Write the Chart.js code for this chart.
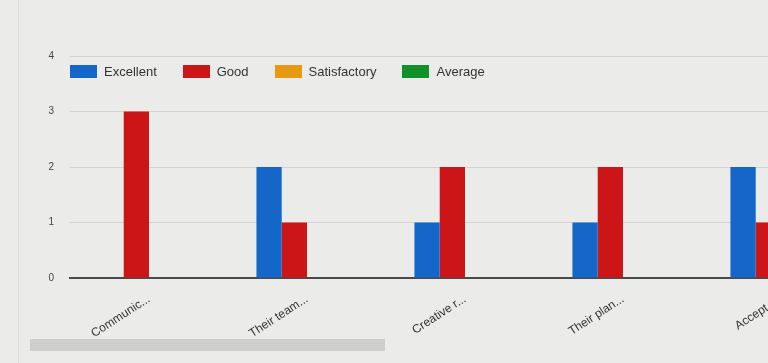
<!DOCTYPE html>
<html>
<head>
<meta charset="utf-8">
<script src="https://cdn.jsdelivr.net/npm/chart.js@4.4.0/dist/chart.umd.min.js"></script>
<style>
html,body{margin:0;padding:0;background:#ebebe9;overflow:hidden;width:768px;height:363px;}
#wrap{position:absolute;left:0;top:0;width:870px;height:363px;}
#legend{position:absolute;left:70px;top:64px;display:flex;font:13px "Liberation Sans",Arial,sans-serif;color:#333;}
#legend span.item{display:flex;align-items:center;margin-right:26px;}
#legend span.box{display:inline-block;width:27px;height:13px;margin-right:7px;}
#scroll{position:absolute;left:30px;top:339px;width:355px;height:12px;background:#cfcfcd;}
#edge{position:absolute;left:18px;top:0;width:1px;height:363px;background:#dcdcda;}
</style>
</head>
<body>
<div id="edge"></div>
<div id="wrap"><canvas id="bars" width="870" height="363"></canvas></div>
<div id="legend"></div>
<div id="scroll"></div>
<script>
// categories and series
var categories=["Communic...","Their team...","Creative r...","Their plan...","Accept r..."];
var excellent=[0,2,1,1,2];
var good=[3,1,2,2,1];
var satisfactory=[0,0,0,0,0];
var average=[0,0,0,0,0];
var seriesNames=["Excellent","Good","Satisfactory","Average"];
var seriesColors=["#1466c9","#cc1517","#e69a12","#12902a"];
var yTicks=[0,1,2,3,4];

var values=[excellent,good,satisfactory,average];
var sets=[];
for(var i=0;i<seriesNames.length;i++){
  sets.push({label:seriesNames[i],data:values[i],backgroundColor:seriesColors[i],borderWidth:0,barPercentage:1,categoryPercentage:0.64});
}

// legend drawn as html so it can sit inside the plot, like the original
var leg=document.getElementById("legend");
for(var i=0;i<seriesNames.length;i++){
  var it=document.createElement("span");it.className="item";
  var bx=document.createElement("span");bx.className="box";bx.style.background=seriesColors[i];
  it.appendChild(bx);it.appendChild(document.createTextNode(seriesNames[i]));
  leg.appendChild(it);
}

new Chart(document.getElementById("bars"),{
  type:"bar",
  data:{labels:categories,datasets:sets},
  options:{
    responsive:false,
    animation:false,
    layout:{padding:{top:56,right:10,left:0,bottom:0}},
    plugins:{legend:{display:false},tooltip:{enabled:false}},
    scales:{
      x:{
        grid:{display:false},
        border:{display:true,color:"#4a4a4a",width:2},
        ticks:{maxRotation:33,minRotation:33,padding:6,color:"#333",font:{family:"Liberation Sans",size:12}},
        afterFit:function(s){s.height=85;}
      },
      y:{
        min:yTicks[0],max:yTicks[yTicks.length-1],
        afterBuildTicks:function(s){s.ticks=yTicks.map(function(v){return {value:v};});},
        grid:{color:"#d3d3d1",drawTicks:false},
        border:{display:false},
        ticks:{padding:16,color:"#444",font:{family:"Liberation Sans",size:10}},
        afterFit:function(s){s.width=70;}
      }
    }
  }
});
</script>
</body>
</html>
